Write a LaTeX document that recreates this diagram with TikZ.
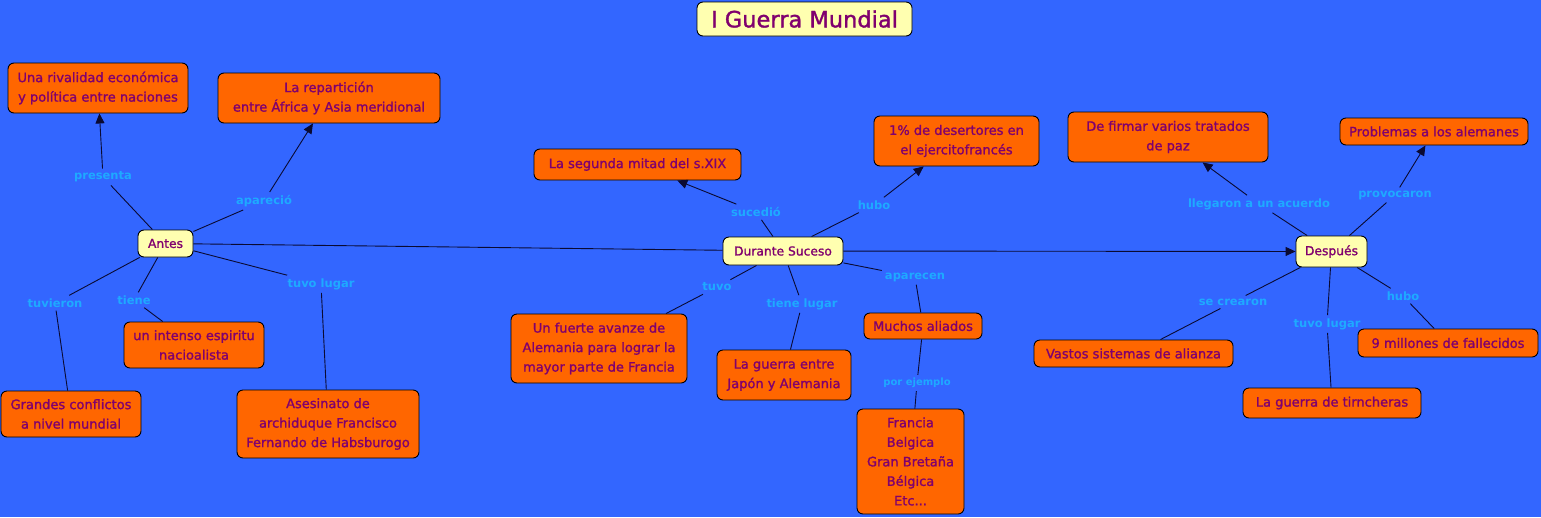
\documentclass[tikz,border=0pt]{standalone}
\usepackage{fontspec}
\setmainfont{DejaVu Sans}
\newfontfamily\heavyfont{DejaVu Sans}[FakeBold=1.4]
\usetikzlibrary{arrows.meta}
\definecolor{bg}{RGB}{51,102,255}
\definecolor{conc}{RGB}{255,102,0}
\definecolor{cent}{RGB}{255,255,176}
\definecolor{txt}{RGB}{128,0,110}
\definecolor{lab}{RGB}{30,170,255}
\definecolor{lin}{RGB}{10,10,50}
\begin{document}
\begin{tikzpicture}[x=1pt,y=-1pt,
 concept/.style={draw=black, line width=0.9pt, fill=conc, rounded corners=6pt, text=txt, align=center, inner sep=0pt, font=\heavyfont\fontsize{13}{19.5}\selectfont},
 central/.style={concept, fill=cent, font=\heavyfont\fontsize{12.3}{14}\selectfont},
 lnk/.style={text=lab, inner sep=3pt, font=\bfseries\fontsize{11.5}{14}\selectfont},
 con/.style={draw=lin, line width=0.9pt},
 arr/.style={con, -{Triangle[length=10pt,width=9pt]}},
]
\fill[bg] (0,0) rectangle (1541,517);
\useasboundingbox (0,0) rectangle (1541,517);

% title
\node[concept, fill=cent, minimum width=215pt, minimum height=34pt, font=\heavyfont\fontsize{22.5}{26}\selectfont] (title) at (804.5,19) {I Guerra Mundial};

% Antes group
\node[central, minimum width=55pt, minimum height=27pt] (antes) at (165.5,243.5) {Antes};
\node[concept, minimum width=180pt, minimum height=50pt] (rival) at (98,88) {Una rivalidad económica\\y política entre naciones};
\node[concept, minimum width=222pt, minimum height=50pt] (repart) at (329,98) {La repartición\\entre África y Asia meridional};
\node[concept, minimum width=140pt, minimum height=46pt] (intenso) at (194,345) {un intenso espiritu\\nacioalista};
\node[concept, minimum width=140pt, minimum height=46pt] (grandes) at (71,414) {Grandes conflictos\\a nivel mundial};
\node[concept, minimum width=182pt, minimum height=68pt] (asesinato) at (328,424) {Asesinato de\\archiduque Francisco\\Fernando de Habsburogo};

% Durante group
\node[central, minimum width=120pt, minimum height=28pt] (durante) at (783,251) {Durante Suceso};
\node[concept, minimum width=207pt, minimum height=31pt] (segunda) at (637.5,164.5) {La segunda mitad del s.XIX};
\node[concept, minimum width=165pt, minimum height=50pt] (desert) at (956.5,141) {1\% de desertores en\\el ejercitofrancés};
\node[concept, minimum width=176pt, minimum height=69pt] (avance) at (599,348.5) {Un fuerte avanze de\\Alemania para lograr la\\mayor parte de Francia};
\node[concept, minimum width=134pt, minimum height=50pt] (japon) at (784,375) {La guerra entre\\Japón y Alemania};
\node[concept, minimum width=118pt, minimum height=26pt] (aliados) at (923,326) {Muchos aliados};
\node[concept, minimum width=107pt, minimum height=105pt] (paises) at (910.5,461.5) {Francia\\Belgica\\Gran Bretaña\\Bélgica\\Etc...};

% Despues group
\node[central, minimum width=71pt, minimum height=31pt] (despues) at (1331.5,251.5) {Después};
\node[concept, minimum width=200pt, minimum height=50pt] (tratados) at (1168,137) {De firmar varios tratados\\de paz};
\node[concept, minimum width=188pt, minimum height=27pt] (problemas) at (1434,131.5) {Problemas a los alemanes};
\node[concept, minimum width=199pt, minimum height=27pt] (vastos) at (1133.5,353.5) {Vastos sistemas de alianza};
\node[concept, minimum width=178pt, minimum height=30pt] (trincheras) at (1332,403) {La guerra de tirncheras};
\node[concept, minimum width=180pt, minimum height=28pt] (millones) at (1448,343) {9 millones de fallecidos};

% link labels
\node[lnk] (lpresenta) at (103,177) {presenta};
\node[lnk] (laparecio) at (264,201) {apareció};
\node[lnk] (ltuvieron) at (55,303) {tuvieron};
\node[lnk] (ltiene) at (134,300) {tiene};
\node[lnk] (ltuvolugarA) at (321,284) {tuvo lugar};
\node[lnk] (lsucedio) at (756,212) {sucedió};
\node[lnk] (lhubo) at (874,205) {hubo};
\node[lnk] (ltuvo) at (717,287) {tuvo};
\node[lnk] (ltienelugar) at (802,304) {tiene lugar};
\node[lnk] (laparecen) at (915,277) {aparecen};
\node[lnk, font=\bfseries\fontsize{10}{12}\selectfont] (lporejemplo) at (917,383) {por ejemplo};
\node[lnk] (lllegaron) at (1259,204) {llegaron a un acuerdo};
\node[lnk] (lprovocaron) at (1395,195) {provocaron};
\node[lnk] (lsecrearon) at (1233,302) {se crearon};
\node[lnk] (ltuvolugarB) at (1327,324) {tuvo lugar};
\node[lnk] (lhuboB) at (1403,296) {hubo};

% connectors: Antes
\draw[con] (antes) -- (lpresenta); \draw[arr] (lpresenta) -- (rival);
\draw[con] (antes) -- (laparecio); \draw[arr] (laparecio) -- (repart);
\draw[con] (antes) -- (ltuvieron); \draw[con] (ltuvieron) -- (grandes);
\draw[con] (antes) -- (ltiene); \draw[con] (ltiene) -- (intenso);
\draw[con] (antes) -- (ltuvolugarA); \draw[con] (ltuvolugarA) -- (asesinato);

% main axis
\draw[con] (antes) -- (durante);
\draw[arr] (durante) -- (despues);

% connectors: Durante
\draw[con] (durante) -- (lsucedio); \draw[arr] (lsucedio) -- (segunda);
\draw[con] (durante) -- (lhubo); \draw[arr] (lhubo) -- (desert);
\draw[con] (durante) -- (ltuvo); \draw[con] (ltuvo) -- (avance);
\draw[con] (durante) -- (ltienelugar); \draw[con] (ltienelugar) -- (japon);
\draw[con] (durante) -- (laparecen); \draw[con] (laparecen) -- (aliados);
\draw[con] (aliados) -- (lporejemplo); \draw[con] (lporejemplo) -- (paises);

% connectors: Despues
\draw[con] (despues) -- (lllegaron); \draw[arr] (lllegaron) -- (tratados);
\draw[con] (despues) -- (lprovocaron); \draw[arr] (lprovocaron) -- (problemas);
\draw[con] (despues) -- (lsecrearon); \draw[con] (lsecrearon) -- (vastos);
\draw[con] (despues) -- (ltuvolugarB); \draw[con] (ltuvolugarB) -- (trincheras);
\draw[con] (despues) -- (lhuboB); \draw[con] (lhuboB) -- (millones);
\end{tikzpicture}
\end{document}
